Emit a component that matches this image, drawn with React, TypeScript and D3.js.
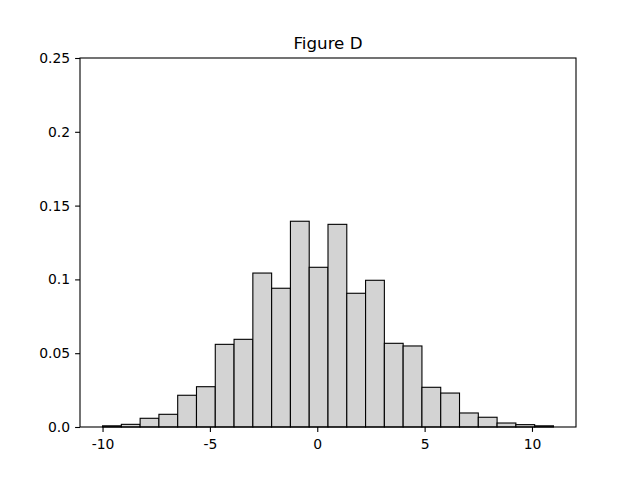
import { useEffect, useRef } from "react";
import * as d3 from "d3";

// bin edges run from -10 to 11, 24 bins of width 0.875
const binStart = -10;
const binEnd = 11;
const densities = [
  0.0008, 0.0018, 0.0059, 0.0086, 0.0215, 0.0273, 0.056, 0.0594,
  0.1043, 0.094, 0.1394, 0.1082, 0.1373, 0.0906, 0.0994, 0.0567,
  0.0549, 0.0269, 0.023, 0.0095, 0.0066, 0.0027, 0.0016, 0.0008,
];
const xTicks = [-10, -5, 0, 5, 10];
const yTicks = [0, 0.05, 0.1, 0.15, 0.2, 0.25];
const yTickLabels = ["0.0", "0.05", "0.1", "0.15", "0.2", "0.25"];
const title = "Figure D";

const App = () => {
  const svgRef = useRef<SVGSVGElement | null>(null);

  useEffect(() => {
    const svg = d3.select(svgRef.current);
    svg.selectAll("*").remove();

    const width = 640;
    const height = 480;
    const margin = { top: 58, right: 64, bottom: 53, left: 80 };
    const innerW = width - margin.left - margin.right;
    const innerH = height - margin.top - margin.bottom;

    const binW = (binEnd - binStart) / densities.length;
    const pad = (binEnd - binStart) * 0.05;

    const x = d3.scaleLinear().domain([binStart - pad, binEnd + pad]).range([0, innerW]);
    const y = d3.scaleLinear().domain([0, 0.25]).range([innerH, 0]);

    const g = svg.append("g").attr("transform", `translate(${margin.left},${margin.top})`);

    // bars
    g.selectAll("rect.bar")
      .data(densities)
      .enter()
      .append("rect")
      .attr("class", "bar")
      .attr("x", (_, i) => x(binStart + i * binW))
      .attr("y", d => y(d))
      .attr("width", x(binW) - x(0))
      .attr("height", d => innerH - y(d))
      .attr("fill", "#d3d3d3")
      .attr("stroke", "#000")
      .attr("stroke-width", 1.1);

    // axes
    const xAxis = g.append("g")
      .attr("transform", `translate(0,${innerH})`)
      .call(d3.axisBottom(x).tickValues(xTicks).tickSize(4.9).tickPadding(5).tickFormat(d => String(d)));
    const yAxis = g.append("g")
      .call(d3.axisLeft(y).tickValues(yTicks).tickSize(4.9).tickPadding(5)
        .tickFormat((_, i) => yTickLabels[i]));

    [xAxis, yAxis].forEach(a => {
      a.select(".domain").remove();
      a.selectAll("line").attr("stroke", "#000").attr("stroke-width", 1.1);
      a.selectAll("text")
        .attr("fill", "#000")
        .attr("font-family", "DejaVu Sans")
        .attr("font-size", "13.9px");
    });
    xAxis.selectAll("text").attr("dy", "0.9em");

    // frame
    g.append("rect")
      .attr("width", innerW)
      .attr("height", innerH)
      .attr("fill", "none")
      .attr("stroke", "#000")
      .attr("stroke-width", 1.1);

    g.append("text")
      .attr("x", innerW / 2)
      .attr("y", -9)
      .attr("text-anchor", "middle")
      .attr("font-family", "DejaVu Sans")
      .attr("font-size", "16.7px")
      .text(title);
  }, []);

  return (
    <svg
      ref={svgRef}
      width={640}
      height={480}
      style={{ position: "absolute", left: 0, top: 0, background: "#fff" }}
    />
  );
};

export default App;
